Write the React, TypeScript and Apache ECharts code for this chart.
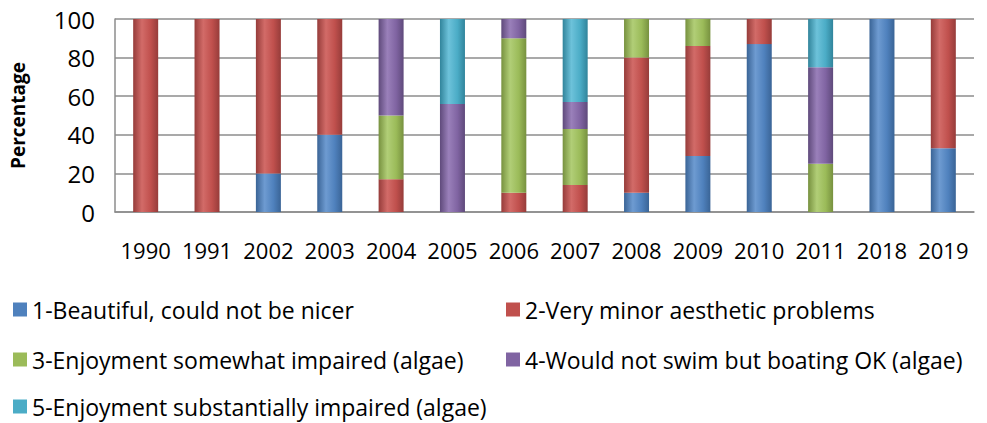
import React, { useEffect, useRef } from "react";
import * as echarts from "echarts";

const years = ["1990", "1991", "2002", "2003", "2004", "2005", "2006", "2007", "2008", "2009", "2010", "2011", "2018", "2019"];
const beautiful = [0, 0, 20, 40, 0, 0, 0, 0, 10, 29, 87, 0, 100, 33];
const minor = [100, 100, 80, 60, 17, 0, 10, 14, 70, 57, 13, 0, 0, 67];
const somewhat = [0, 0, 0, 0, 33, 0, 80, 29, 20, 14, 0, 25, 0, 0];
const boating = [0, 0, 0, 0, 50, 56, 10, 14, 0, 0, 0, 50, 0, 0];
const substantial = [0, 0, 0, 0, 0, 44, 0, 43, 0, 0, 0, 25, 0, 0];
const seriesNames = [
  "1-Beautiful, could not be nicer",
  "2-Very minor aesthetic problems",
  "3-Enjoyment somewhat impaired (algae)",
  "4-Would not swim but boating OK (algae)",
  "5-Enjoyment substantially impaired (algae)",
];
const yTicks = [0, 20, 40, 60, 80, 100];

const colors = ["#4F81BD", "#C0504D", "#9BBB59", "#8064A2", "#4BACC6"];
const darker = ["#3A6496", "#963C3A", "#77913F", "#5F4A7B", "#31849B"];
const lighter = ["#6E9BD1", "#D26B68", "#B1CE77", "#9A80BA", "#6DC2DA"];

const FONT = "'Open Sans', 'DejaVu Sans', sans-serif";

export default function App() {
  const ref = useRef<HTMLDivElement>(null);
  useEffect(() => {
    if (!ref.current) return;
    const chart = echarts.init(ref.current, null, { renderer: "svg" });
    const data = [beautiful, minor, somewhat, boating, substantial];
    const grad = (i: number) =>
      new echarts.graphic.LinearGradient(0, 0, 1, 0, [
        { offset: 0, color: darker[i] },
        { offset: 0.35, color: lighter[i] },
        { offset: 0.7, color: colors[i] },
        { offset: 1, color: darker[i] },
      ]);
    const legendPos = [
      { left: 8, top: 293 },
      { left: 501, top: 293 },
      { left: 8, top: 343 },
      { left: 501, top: 343 },
      { left: 8, top: 390 },
    ];
    chart.setOption({
      animation: false,
      textStyle: { fontFamily: FONT },
      grid: { left: 115, right: 13, top: 19, height: 193 },
      legend: seriesNames.map((n, i) => ({
        data: [{ name: n, itemStyle: { color: colors[i] } }],
        left: legendPos[i].left,
        top: legendPos[i].top,
        icon: "rect",
        itemWidth: 14,
        itemHeight: 14,
        itemGap: 6,
        selectedMode: false,
        textStyle: { fontSize: 23, color: "#000", fontFamily: FONT },
      })),
      xAxis: {
        type: "category",
        data: years,
        axisLine: { show: true, lineStyle: { color: "#8C8C8C", width: 1.5 } },
        axisTick: { show: false },
        axisLabel: { fontSize: 22, color: "#000", margin: 27, fontFamily: FONT, interval: 0, hideOverlap: false },
      },
      yAxis: {
        type: "value",
        min: yTicks[0],
        max: yTicks[yTicks.length - 1],
        interval: 20,
        name: "Percentage",
        nameLocation: "middle",
        nameGap: 88,
        nameTextStyle: { fontSize: 19, fontWeight: "bold", color: "#000", fontFamily: FONT },
        axisLine: { show: true, lineStyle: { color: "#8C8C8C", width: 1.5 } },
        axisTick: { show: false },
        axisLabel: { fontSize: 24, color: "#000", margin: 20, fontFamily: FONT },
        splitLine: { lineStyle: { color: "#8C8C8C", width: 1.5 } },
      },
      series: data.map((d, i) => ({
        name: seriesNames[i],
        type: "bar",
        stack: "total",
        data: d,
        barWidth: 25,
        itemStyle: { color: grad(i) },
      })),
    });
    return () => chart.dispose();
  }, []);
  return <div ref={ref} style={{ position: "absolute", left: 0, top: 0, width: 987, height: 423 }} />;
}
